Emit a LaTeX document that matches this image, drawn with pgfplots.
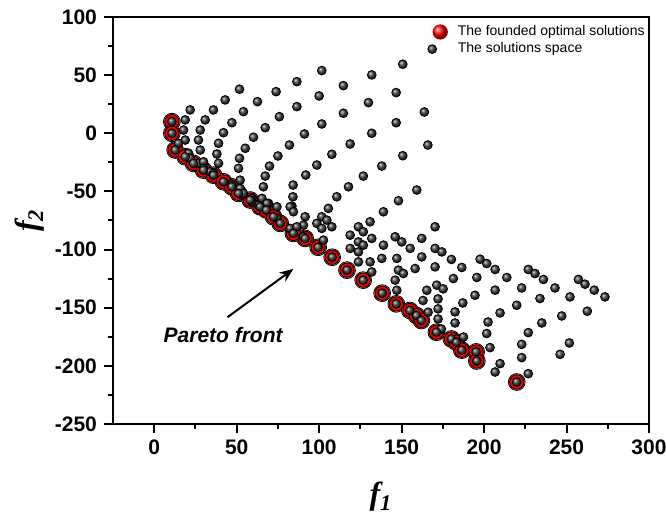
\documentclass[border=0pt]{standalone}
\usepackage{pgfplots}
\pgfplotsset{compat=1.18}
\usepackage{pgfplotstable}
\usepackage{fontspec}
\setmainfont{Liberation Sans}
\newfontfamily\labelfont{Liberation Serif}
\usetikzlibrary{arrows.meta}

% Pareto-optimal points found by the optimiser
\pgfplotstableread{
f1 f2
10.7 10.0
10.7 0.0
12.7 -14.4
18.8 -20.2
23.8 -25.9
29.9 -31.7
35.9 -36.0
42.0 -41.7
47.0 -46.0
51.1 -51.7
58.2 -57.4
64.2 -63.2
68.0 -66.0
72.3 -71.8
76.4 -77.5
84.4 -86.1
91.5 -90.4
99.4 -98.0
107.9 -106.6
116.9 -117.7
126.7 -126.3
138.2 -137.5
146.8 -146.7
155.0 -152.4
159.0 -156.7
162.0 -161.0
171.1 -171.1
180.2 -176.9
183.2 -179.7
186.5 -186.5
195.2 -188.0
195.6 -195.8
219.8 -213.9
}\frontdata

% Whole evaluated solution space
\pgfplotstableread{
f1 f2
21.8 20.1
18.8 11.5
17.8 2.8
18.8 -5.8
35.9 20.1
30.9 11.5
27.9 2.8
26.8 -5.8
27.9 -14.4
43.0 28.7
47.1 9.1
42.0 0.5
39.0 -8.6
38.0 -17.8
39.0 -25.8
51.7 37.9
54.1 18.6
60.2 -3.4
55.2 -12.9
51.7 -21.5
51.1 -30.1
73.9 35.8
62.6 27.2
75.9 14.3
67.3 4.8
82.0 -10.1
75.0 -19.5
69.9 -28.2
67.3 -36.8
86.5 44.4
86.5 22.9
101.6 53.9
131.9 50.2
150.7 59.4
114.7 41.0
100.0 32.1
129.9 26.4
146.7 35.0
163.8 18.3
114.7 17.2
101.6 8.0
146.7 9.1
131.9 0.0
91.1 -0.6
118.8 -9.2
107.7 -18.1
165.9 -10.1
150.7 -19.3
98.6 -27.3
138.0 -28.2
91.9 -35.9
126.8 -36.8
117.8 -46.0
110.7 -54.6
105.6 -64.6
101.6 -71.8
104.7 -74.7
98.6 -77.5
101.6 -81.8
91.5 -71.8
90.5 -79.0
107.7 -80.4
102.6 -91.9
123.8 -80.4
126.8 -84.7
130.9 -76.1
131.9 -90.4
118.8 -87.6
123.8 -93.4
126.8 -96.2
118.8 -99.0
123.8 -102.0
123.8 -110.6
130.9 -110.6
139.0 -67.5
148.1 -58.0
159.2 -48.8
139.0 -96.2
138.0 -107.6
131.9 -119.2
146.1 -89.0
150.1 -93.4
155.2 -99.0
162.2 -90.4
170.3 -80.4
147.1 -107.6
148.1 -117.7
151.1 -120.6
158.2 -116.3
162.2 -106.3
170.3 -99.0
174.4 -102.0
170.3 -114.9
146.1 -126.3
147.1 -135.0
165.3 -135.0
171.3 -130.6
180.2 -108.5
186.5 -115.4
197.6 -108.3
201.6 -112.0
206.7 -117.1
181.4 -124.9
195.6 -124.0
213.8 -124.0
226.8 -117.1
230.9 -120.6
236.0 -125.7
206.7 -134.9
222.8 -133.0
243.0 -133.0
194.5 -139.3
257.2 -125.7
261.2 -129.8
266.8 -134.9
233.9 -142.1
252.1 -140.7
273.3 -140.7
175.2 -133.8
187.1 -145.9
219.8 -147.9
182.4 -153.6
209.7 -154.5
247.1 -157.1
262.6 -153.0
182.4 -163.1
202.4 -162.3
235.0 -163.1
226.8 -171.4
201.6 -172.2
251.7 -180.3
187.5 -175.2
222.8 -181.5
203.6 -184.3
246.1 -190.1
222.8 -192.9
209.7 -198.1
206.7 -205.3
226.8 -206.7
163.0 -143.8
166.1 -153.9
172.1 -142.4
172.1 -151.0
172.1 -159.7
174.1 -168.3
66.2 -46.0
63.2 -61.7
69.3 -60.3
74.4 -63.2
84.1 -54.6
83.5 -62.6
84.2 -44.5
82.4 -81.8
86.5 -80.4
47.1 -44.5
52.1 -47.4
53.2 -53.1
59.2 -56.0
67.3 -64.6
74.4 -73.2
14.7 -8.6
20.8 -17.2
21.8 -21.5
26.8 -25.8
29.9 -24.5
29.9 -30.1
33.9 -33.1
35.9 -34.4
54.1 -51.7
59.2 -58.9
65.3 -56.0
68.3 -60.3
82.4 -63.2
84.4 -67.5
90.5 -89.0
52.1 -40.3
}\spacedata

\begin{document}
\begin{tikzpicture}
\useasboundingbox (-56.5pt,-45pt) rectangle (276.5pt,212pt);
\begin{axis}[
  at={(0pt,0pt)}, anchor=south west,
  scale only axis, width=268pt, height=203.5pt,
  xmin=-25, xmax=300, ymin=-250, ymax=100,
  xtick={0,50,...,300}, ytick={-250,-200,...,100},
  minor x tick num=1, minor y tick num=1,
  tick align=outside, xtick pos=bottom, ytick pos=left,
  major tick length=4.5pt, minor tick length=2.5pt,
  every tick/.style={black, line width=1pt},
  axis line style={line width=1pt},
  /pgf/number format/assume math mode=true,
  tick label style={font=\fontsize{10.5}{12}\selectfont\bfseries},
  xlabel={\labelfont\bfseries\itshape f\textsubscript{1}},
  ylabel={\labelfont\bfseries\itshape f\textsubscript{2}},
  label style={font=\fontsize{16}{18}\selectfont},
  xlabel style={at={(axis description cs:0.5,0)}, anchor=center, yshift=-36.5pt},
  ylabel style={at={(axis description cs:0,0.5)}, anchor=center, yshift=41.5pt},
  legend style={draw=none, fill=none, at={(axis description cs:1,1)}, anchor=north east,
    xshift=3pt, font=\fontsize{7}{8}\selectfont, legend cell align=left,
    row sep=-2pt, column sep=3pt},
]
% soft halo under the optimal points
\addplot[only marks, mark=*, mark size=4.2pt, mark options={fill=red!45!white, draw=none}, forget plot]
  table[x=f1, y=f2] {\frontdata};
\addplot[only marks, mark=*, mark size=3.6pt, mark options={fill=red!92!black, draw=none},
  legend image code/.code={\node[circle, ball color=red, inner sep=0pt, minimum size=7.6pt] at (0.3cm,0cm) {};}]
  table[x=f1, y=f2] {\frontdata};
\addlegendentry{The founded optimal solutions}
\addplot[only marks, mark=ball, mark size=2.2pt, mark options={ball color=black!75, draw=none}]
  table[x=f1, y=f2] {\spacedata};
\addlegendentry{The solutions space}
\addplot[only marks, mark=ball, mark size=2.2pt, mark options={ball color=black!75, draw=none}, forget plot]
  table[x=f1, y=f2] {\frontdata};

\draw[-{Stealth[length=7pt,width=5.5pt]}, line width=1pt] (axis cs:44.4,-158.2) -- (axis cs:84.4,-116.6);
\node[font=\fontsize{10.5}{12}\selectfont\bfseries\itshape] at (axis cs:41.8,-173.7) {Pareto front};
\end{axis}
\end{tikzpicture}
\end{document}
